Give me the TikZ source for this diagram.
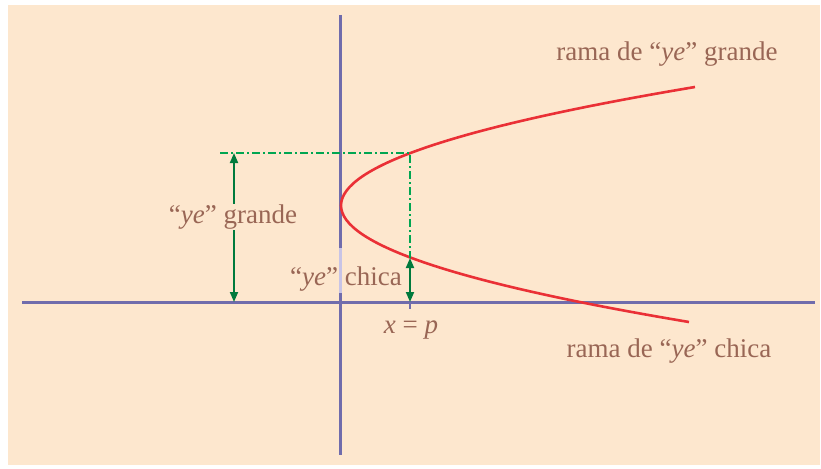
\documentclass[tikz,border=0pt]{standalone}
\usepackage{fontspec}
\setmainfont{Liberation Serif}
\usepackage{xcolor}
\usepackage{tikz}
\usetikzlibrary{arrows.meta, positioning, calc}
\definecolor{bgpeach}{RGB}{253,231,206}
\definecolor{axisblue}{RGB}{112,108,172}
\definecolor{axislight}{RGB}{200,196,230}
\definecolor{curvered}{RGB}{234,48,54}
\definecolor{guidegreen}{RGB}{0,166,81}
\definecolor{arrowgreen}{RGB}{0,122,61}
\definecolor{labelbrown}{RGB}{153,102,85}

\begin{document}
\begin{tikzpicture}[
    x=1pt, y=-1pt,
    >={Triangle[length=10pt, width=8pt]},
    axisline/.style={line width=3pt, axisblue},
    guideline/.style={line width=1.4pt, guidegreen, dash pattern=on 8pt off 3pt on 2pt off 3pt},
    measure/.style={<->, line width=1.8pt, arrowgreen},
    lbl/.style={text=labelbrown, font=\fontsize{27}{32}\selectfont, inner sep=1pt},
]
    \useasboundingbox (0,0) rectangle (821,468);
    \fill[bgpeach] (8,5) rectangle (820,465);

    % axes
    \draw[axisline] (340,15) -- (340,455);
    \draw[axisline] (22,302) -- (815,302);
    \draw[line width=3pt, axislight] (340,248) -- (340,293);
    \coordinate (foot) at (410,302);
    \draw[line width=2.5pt, axisblue] (foot) -- (410,309);

    % parabola
    \coordinate (vertex) at (341,205.5);
    \draw[line width=2.6pt, curvered] (695,87) .. controls (459,126.5) and (341,166) .. (vertex)
        .. controls (341,244.3) and (457,283.2) .. (689,322);

    \coordinate (ptop) at (410,153);
    \coordinate (pbot) at (410,258);
    \coordinate (gtop) at (234,153);
    \coordinate (gbot) at (234,302);

    % guide lines
    \draw[guideline] (220,153) -- (ptop) -- (pbot);

    % labels
    \node[lbl] (grande) at (233,217) {``\textit{ye}'' grande};
    \node[lbl] (chica) at (346,279) {``\textit{ye}'' chica};
    \node[lbl] (xp) at (411,330) {\textit{x} = \textit{p}};
    \node[lbl] (ramag) at (667,54) {rama de ``\textit{ye}'' grande};
    \node[lbl] (ramac) at (669,351) {rama de ``\textit{ye}'' chica};

    % measures
    \draw[->, line width=1.8pt, arrowgreen] (grande.north -| gtop) -- (gtop);
    \draw[->, line width=1.8pt, arrowgreen] (grande.south -| gbot) -- (gbot);
    \draw[measure] (pbot) -- (foot);
\end{tikzpicture}
\end{document}
